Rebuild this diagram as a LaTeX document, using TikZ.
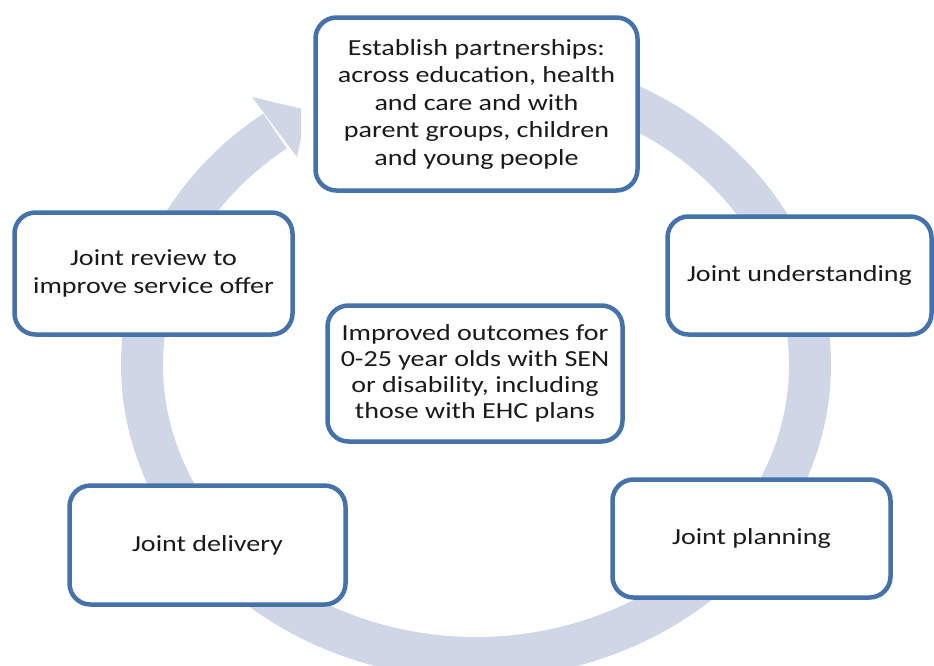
\documentclass[tikz,border=0pt]{standalone}
\usepackage{fontspec}
\newfontfamily\boxfont[FakeStretch=1.22]{Carlito}
\definecolor{ringcol}{HTML}{CFD7E6}
\definecolor{edgecol}{HTML}{4672AA}
\definecolor{txtcol}{HTML}{1A1A1A}
\begin{document}
\begin{tikzpicture}[x=1pt,y=-1pt,
  stagebox/.style={draw=edgecol, line width=4.5pt, fill=white, rounded corners=21pt,
    inner sep=0pt, align=center, text=txtcol,
    font=\boxfont\fontsize{23}{27.5}\selectfont},
  ringband/.style={draw=ringcol, line width=42pt}]
\useasboundingbox (0,0) rectangle (934,665);
% cycle band
\draw[ringband] plot[domain=-70:233, samples=240, smooth, variable=\t]
  ({476+334*cos(\t)}, {365+293*sin(\t)});
\begin{scope}
  \clip (0,0) rectangle (301,665);
  \fill[ringcol] (252,97) -- (307,110) -- (297,157) -- cycle;
\end{scope}
% stages
\node[stagebox, minimum width=322pt, minimum height=173pt] (partner) at (476.5,104)
  {Establish partnerships:\\across education, health\\and care and with\\parent groups, children\\and young people};
\node[stagebox, minimum width=264pt, minimum height=118pt] (understand) at (799.5,275.5)
  {Joint understanding};
\node[stagebox, minimum width=278pt, minimum height=118pt] (planning) at (751.5,538.5)
  {Joint planning};
\node[stagebox, minimum width=276pt, minimum height=119pt] (delivery) at (207.5,545)
  {Joint delivery};
\node[stagebox, minimum width=278pt, minimum height=122pt] (review) at (153.5,273.5)
  {Joint review to\\improve service offer};
\node[stagebox, minimum width=295pt, minimum height=136pt,
  font=\boxfont\fontsize{23}{26}\selectfont] (outcomes) at (475,373.5)
  {Improved outcomes for\\0-25 year olds with SEN\\or disability, including\\those with EHC plans};
\end{tikzpicture}
\end{document}
